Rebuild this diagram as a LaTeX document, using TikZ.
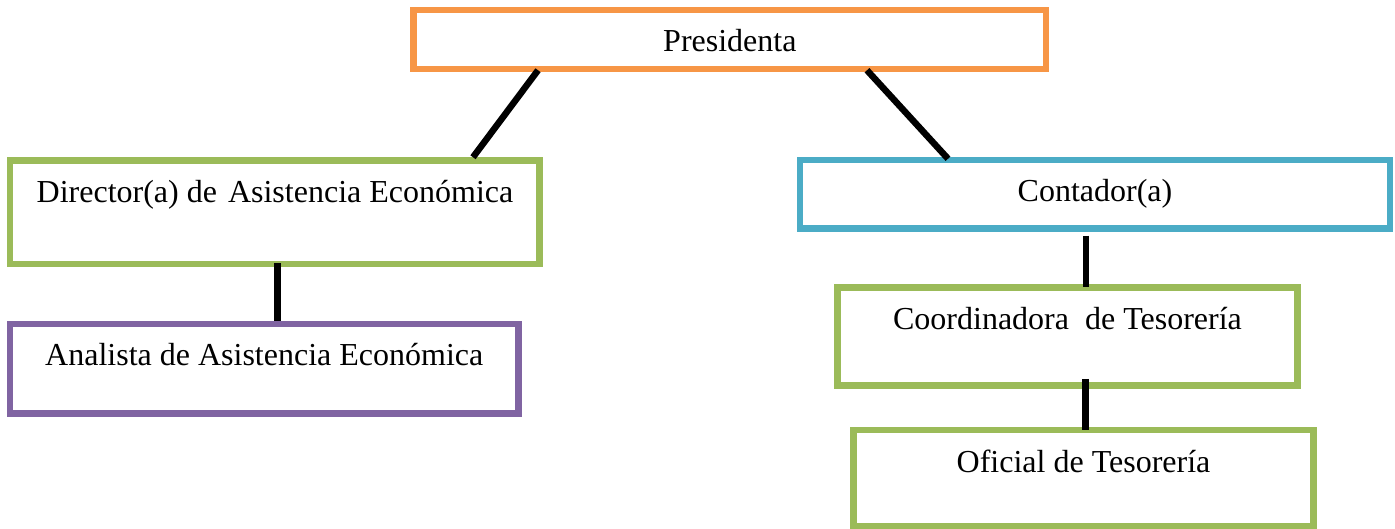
\documentclass[tikz,border=0pt]{standalone}
\usepackage{fontspec}
\setmainfont{Liberation Serif}
\definecolor{cOrange}{HTML}{F79646}
\definecolor{cGreen}{HTML}{9BBB59}
\definecolor{cPurple}{HTML}{8064A2}
\definecolor{cBlue}{HTML}{4BACC6}
\tikzset{
  box/.style={draw=#1, line width=6.5pt, fill=white, inner sep=0pt, rectangle},
  lbl/.style={anchor=base, inner sep=0pt, font=\fontsize{32}{38}\selectfont},
  conn/.style={draw=black, line width=6.5pt}
}
\begin{document}
\begin{tikzpicture}[x=1pt, y=-1pt]
\useasboundingbox[fill=white] (0,0) rectangle (1395,529);
% boxes
\node[box=cOrange, minimum width=632.3pt, minimum height=59pt] (pres) at (729.85,39.5) {};
\node[box=cGreen, minimum width=529.5pt, minimum height=103.3pt] (dir) at (274.75,212.15) {};
\node[box=cPurple, minimum width=508.5pt, minimum height=89.5pt] (ana) at (264.25,368.75) {};
\node[box=cBlue, minimum width=590pt, minimum height=68.5pt] (cont) at (1095,194.25) {};
\node[box=cGreen, minimum width=460pt, minimum height=98pt] (coord) at (1067.5,336.5) {};
\node[box=cGreen, minimum width=460pt, minimum height=96pt] (ofi) at (1083.5,478) {};
% texts
\node[lbl] (presT) at (729.85,52) {Presidenta};
\node[lbl] (dirT) at (275,203) {Director(a) de\hspace{11pt}Asistencia Económica};
\node[lbl] (anaT) at (264.25,365) {Analista de Asistencia Económica};
\node[lbl] (contT) at (1095,202) {Contador(a)};
\node[lbl] (coordT) at (1067.5,330) {Coordinadora~ de Tesorería};
\node[lbl] (ofiT) at (1083.5,472) {Oficial de Tesorería};
% connectors
\draw[conn] ([xshift=-191.85pt, yshift=2pt]pres.south) -- ([xshift=198.25pt]dir.north);
\draw[conn] ([xshift=137.15pt, yshift=2pt]pres.south) -- ([xshift=-147pt, yshift=-2pt]cont.north);
\draw[conn] ([xshift=2.75pt, yshift=4pt]dir.south) -- ([xshift=13.25pt]ana.north);
\draw[conn] ([xshift=-9pt, yshift=-4pt]cont.south) -- ([xshift=18.5pt, yshift=-3pt]coord.north);
\draw[conn] ([xshift=18pt, yshift=10pt]coord.south) -- ([xshift=2pt, yshift=-3pt]ofi.north);
\end{tikzpicture}
\end{document}
